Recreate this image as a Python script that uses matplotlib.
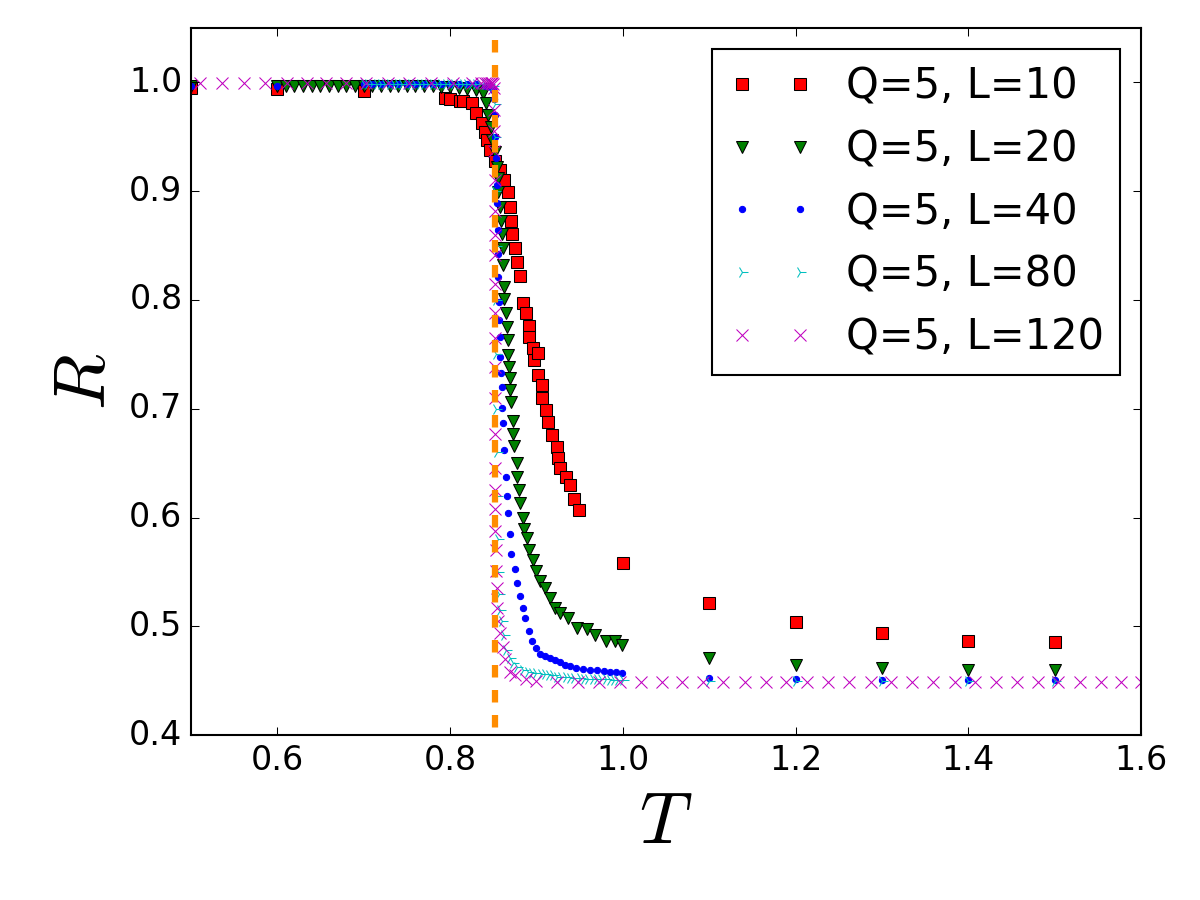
import matplotlib
matplotlib.use("Agg")
import matplotlib.pyplot as plt

plt.style.use('classic')

Tc = 0.852

# Q=5, L=10
T10 = [0.50, 0.60, 0.70, 0.794, 0.800, 0.811, 0.815, 0.826, 0.830, 0.837, 0.840, 0.843, 0.846,
       0.852, 0.858, 0.863, 0.867, 0.869, 0.871, 0.872, 0.875, 0.877, 0.881, 0.885, 0.888,
       0.891, 0.892, 0.896, 0.897, 0.902, 0.902, 0.906, 0.907, 0.911, 0.913, 0.918, 0.924,
       0.925, 0.927, 0.934, 0.939, 0.943, 0.949, 1.0, 1.1, 1.2, 1.3, 1.4, 1.5]
R10 = [0.995, 0.994, 0.992, 0.986, 0.985, 0.983, 0.983, 0.981, 0.972, 0.963, 0.954, 0.947, 0.938,
       0.928, 0.919, 0.910, 0.899, 0.885, 0.873, 0.861, 0.848, 0.835, 0.822, 0.797, 0.788,
       0.776, 0.766, 0.756, 0.745, 0.751, 0.731, 0.722, 0.710, 0.699, 0.688, 0.676, 0.665,
       0.655, 0.646, 0.637, 0.630, 0.617, 0.607, 0.558, 0.522, 0.504, 0.494, 0.487, 0.486]

# Q=5, L=20
T20 = [0.50, 0.60, 0.61, 0.62, 0.63, 0.64, 0.65, 0.66, 0.67, 0.68, 0.69, 0.70, 0.71, 0.72,
       0.73, 0.74, 0.75, 0.76, 0.77, 0.78, 0.79, 0.80, 0.81, 0.82, 0.830, 0.838, 0.842, 0.844,
       0.848, 0.849, 0.852, 0.854, 0.855, 0.856, 0.858, 0.859, 0.860, 0.861, 0.861, 0.862,
       0.863, 0.865, 0.866, 0.867, 0.867, 0.868, 0.869, 0.870, 0.871, 0.873, 0.873, 0.874,
       0.877, 0.878, 0.880, 0.881, 0.884, 0.886, 0.889, 0.891, 0.896, 0.900, 0.904, 0.910,
       0.916, 0.921, 0.927, 0.936, 0.947, 0.958, 0.968, 0.981, 0.991, 0.999,
       1.1, 1.2, 1.3, 1.4, 1.5]
R20 = [0.997, 0.997, 0.997, 0.997, 0.997, 0.997, 0.997, 0.997, 0.997, 0.997, 0.997, 0.997, 0.997, 0.997,
       0.997, 0.997, 0.997, 0.997, 0.997, 0.997, 0.996, 0.996, 0.995, 0.994, 0.993, 0.990, 0.981, 0.970,
       0.959, 0.947, 0.936, 0.922, 0.912, 0.899, 0.885, 0.873, 0.861, 0.848, 0.832, 0.812,
       0.801, 0.788, 0.775, 0.763, 0.749, 0.738, 0.728, 0.717, 0.706, 0.689, 0.677, 0.666,
       0.650, 0.637, 0.625, 0.613, 0.600, 0.590, 0.581, 0.570, 0.561, 0.551, 0.542, 0.535,
       0.526, 0.517, 0.512, 0.508, 0.499, 0.498, 0.492, 0.487, 0.487, 0.483,
       0.471, 0.465, 0.462, 0.460, 0.460]

# Q=5, L=40
T40 = [0.50, 0.60, 0.70, 0.71, 0.72, 0.73, 0.74, 0.75, 0.76, 0.77, 0.78, 0.79, 0.80, 0.81,
       0.82, 0.83, 0.84, 0.845, 0.848, 0.850, 0.851, 0.852, 0.852, 0.853, 0.854, 0.854, 0.855,
       0.855, 0.856, 0.857, 0.857, 0.858, 0.858, 0.859, 0.860, 0.860, 0.861, 0.863, 0.865,
       0.866, 0.867, 0.869, 0.871, 0.875, 0.878, 0.881, 0.884, 0.887, 0.891, 0.895, 0.900,
       0.904, 0.910, 0.916, 0.921, 0.927, 0.933, 0.939, 0.946, 0.954, 0.962, 0.970, 0.978,
       0.985, 0.992, 0.999, 1.1, 1.2, 1.3, 1.4, 1.5]
R40 = [0.997, 0.997, 0.998, 0.998, 0.998, 0.998, 0.998, 0.998, 0.998, 0.998, 0.998, 0.998, 0.998, 0.998,
       0.998, 0.998, 0.997, 0.997, 0.996, 0.993, 0.985, 0.970, 0.950, 0.930, 0.906, 0.889, 0.864,
       0.842, 0.821, 0.798, 0.782, 0.766, 0.748, 0.733, 0.720, 0.701, 0.687, 0.662, 0.637,
       0.620, 0.604, 0.585, 0.567, 0.553, 0.540, 0.528, 0.517, 0.508, 0.496, 0.487, 0.480,
       0.475, 0.473, 0.471, 0.469, 0.467, 0.465, 0.464, 0.462, 0.461, 0.460, 0.460, 0.459,
       0.458, 0.458, 0.457, 0.453, 0.452, 0.451, 0.451, 0.451]

# Q=5, L=80
T80 = [0.700, 0.705, 0.710, 0.715, 0.720, 0.725, 0.730, 0.735, 0.740, 0.745, 0.750, 0.755,
       0.760, 0.765, 0.770, 0.775, 0.780, 0.785, 0.790, 0.795, 0.800, 0.805, 0.810, 0.815,
       0.820, 0.825, 0.830, 0.835, 0.840, 0.845, 0.850, 0.852, 0.852, 0.852, 0.853, 0.853,
       0.853, 0.853, 0.854, 0.854, 0.855, 0.856, 0.857, 0.858, 0.860, 0.862, 0.865, 0.869,
       0.873, 0.878, 0.884, 0.890, 0.895, 0.900, 0.905, 0.910, 0.915, 0.919, 0.924, 0.929,
       0.934, 0.939, 0.944, 0.950, 0.955, 0.960, 0.965, 0.970, 0.975, 0.980, 0.985, 0.990,
       0.995, 1.000, 1.1, 1.2, 1.3, 1.4, 1.5]
R80 = [0.998, 0.998, 0.998, 0.998, 0.998, 0.998, 0.998, 0.998, 0.998, 0.998, 0.998, 0.998,
       0.998, 0.998, 0.998, 0.998, 0.998, 0.998, 0.998, 0.998, 0.998, 0.998, 0.998, 0.998,
       0.998, 0.998, 0.998, 0.998, 0.998, 0.998, 0.997, 0.980, 0.950, 0.900, 0.850, 0.800,
       0.750, 0.700, 0.660, 0.620, 0.580, 0.550, 0.530, 0.515, 0.505, 0.492, 0.478, 0.471,
       0.466, 0.463, 0.460, 0.458, 0.457, 0.457, 0.456, 0.456, 0.455, 0.455, 0.454, 0.454,
       0.454, 0.453, 0.453, 0.453, 0.452, 0.452, 0.452, 0.452, 0.452, 0.452, 0.451, 0.451,
       0.451, 0.451, 0.450, 0.450, 0.450, 0.450, 0.450]

# Q=5, L=120
T120 = [0.511, 0.536, 0.561, 0.586, 0.611, 0.634, 0.657, 0.680, 0.703, 0.728, 0.753, 0.778,
        0.803, 0.825, 0.836, 0.840, 0.843, 0.845, 0.847, 0.849, 0.850, 0.851, 0.851, 0.8515,
        0.8515, 0.852, 0.852, 0.852, 0.852, 0.852, 0.852, 0.852, 0.852, 0.852, 0.852, 0.852,
        0.852, 0.852, 0.852, 0.853, 0.853, 0.854, 0.854, 0.856, 0.858, 0.861, 0.864, 0.869,
        0.875, 0.888, 0.900, 0.924, 0.948, 0.972, 0.997, 1.021, 1.045, 1.069, 1.093, 1.116,
        1.141, 1.166, 1.189, 1.213, 1.237, 1.262, 1.287, 1.310, 1.335, 1.359, 1.384, 1.408,
        1.432, 1.456, 1.480, 1.504, 1.529, 1.553, 1.577, 1.600]
R120 = [0.999, 0.999, 0.999, 0.999, 0.999, 0.999, 0.999, 0.999, 0.999, 0.999, 0.999, 0.999,
        0.999, 0.999, 0.999, 0.999, 0.999, 0.999, 0.999, 0.999, 0.998, 0.995, 0.975, 0.955,
        0.937, 0.910, 0.882, 0.860, 0.841, 0.815, 0.788, 0.765, 0.738, 0.710, 0.677, 0.646,
        0.625, 0.608, 0.588, 0.570, 0.551, 0.535, 0.517, 0.505, 0.494, 0.481, 0.470, 0.458,
        0.455, 0.452, 0.450, 0.449, 0.449, 0.449, 0.449, 0.449, 0.449, 0.449, 0.449, 0.449,
        0.449, 0.449, 0.449, 0.449, 0.449, 0.449, 0.449, 0.449, 0.449, 0.449, 0.449, 0.449,
        0.449, 0.449, 0.449, 0.449, 0.449, 0.449, 0.449, 0.449]

fig = plt.figure(figsize=(8, 6), dpi=150)
ax = fig.add_subplot(111)
fig.subplots_adjust(left=0.159, right=0.951, top=0.969, bottom=0.183)

ax.plot(T10, R10, 'rs', label='Q=5, L=10')
ax.plot(T20, R20, 'gv', label='Q=5, L=20')
ax.plot(T40, R40, 'b.', label='Q=5, L=40')
ax.plot(T80, R80, 'c4', label='Q=5, L=80')
ax.plot(T120, R120, 'mx', label='Q=5, L=120')

# critical temperature
ax.plot([Tc, Tc], [1.062, 0.3], '--', color='darkorange', linewidth=3)

ax.set_xlim(0.5, 1.6)
ax.set_ylim(0.4, 1.05)
ax.set_xticks([0.6, 0.8, 1.0, 1.2, 1.4, 1.6])
ax.set_yticks([0.4, 0.5, 0.6, 0.7, 0.8, 0.9, 1.0])
ax.tick_params(labelsize=16)
ax.set_xlabel(r'$T$', fontsize=35)
ax.set_ylabel(r'$R$', fontsize=35)
ax.legend(loc='upper right', numpoints=2, fontsize=20)

fig.savefig('out.png', dpi=150, facecolor='white')
